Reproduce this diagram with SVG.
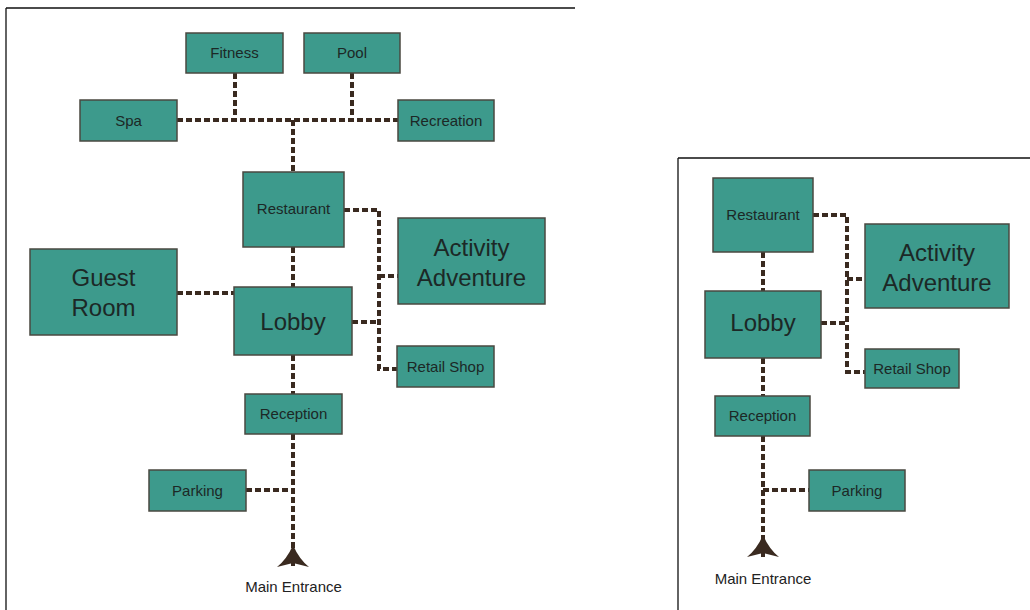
<svg xmlns="http://www.w3.org/2000/svg" width="1030" height="610" viewBox="0 0 1030 610">
  <style>
    .room { fill: #3d9a8c; stroke: #4a4840; stroke-width: 1.5; }
    .lbl { font-family: "Liberation Sans", Arial, sans-serif; fill: #1c2826; text-anchor: middle; }
    .sm { font-size: 15px; }
    .lg { font-size: 24px; }
    .path { fill: none; stroke: #3a2a20; stroke-width: 4; stroke-dasharray: 6 3; }
    .frame { fill: none; stroke: #111; stroke-width: 1.3; }
    .head { fill: #3a2a20; }
    .cap { font-family: "Liberation Sans", Arial, sans-serif; font-size: 15px; fill: #222; text-anchor: middle; }
  </style>
  <rect width="1030" height="610" fill="#ffffff"/>

  <!-- page frames -->
  <path class="frame" d="M6 8 H575 M6 8 V610"/>
  <path class="frame" d="M678 158 H1030 M678 158 V610"/>

  <!-- full plan: circulation paths -->
  <g id="connectors-full">
    <path class="path" d="M177 120 H398"/>
    <path class="path" d="M235 73 V120"/>
    <path class="path" d="M352 73 V120"/>
    <path class="path" d="M293 120 V172"/>
    <path class="path" d="M293 247 V287"/>
    <path class="path" d="M344 210 H379 V369 H397"/>
    <path class="path" d="M379 276 H398"/>
    <path class="path" d="M352 322 H379"/>
    <path class="path" d="M177 293 H234"/>
    <path class="path" d="M293 355 V394"/>
    <path class="path" d="M293 434 V567"/>
    <path class="path" d="M246 490 H293"/>
    <path class="head" d="M293 545 Q299 559 309 567 L293 563 L277 567 Q287 559 293 545 Z"/>
  </g>

  <g id="spa"><rect class="room" x="80" y="100" width="97" height="41"/><text class="lbl sm" x="128.5" y="126">Spa</text></g>
  <g id="fitness"><rect class="room" x="186" y="33" width="97" height="40"/><text class="lbl sm" x="234.5" y="58">Fitness</text></g>
  <g id="pool"><rect class="room" x="304" y="33" width="96" height="40"/><text class="lbl sm" x="352" y="58">Pool</text></g>
  <g id="recreation"><rect class="room" x="398" y="100" width="96" height="41"/><text class="lbl sm" x="446" y="126">Recreation</text></g>
  <g id="restaurant"><rect class="room" x="243" y="172" width="101" height="75"/><text class="lbl sm" x="293.5" y="214">Restaurant</text></g>
  <g id="activity"><rect class="room" x="398" y="218" width="147" height="86"/><text class="lbl lg" x="471.5" y="256">Activity</text><text class="lbl lg" x="471.5" y="286">Adventure</text></g>
  <g id="guest-room"><rect class="room" x="30" y="249" width="147" height="86"/><text class="lbl lg" x="103.5" y="286">Guest</text><text class="lbl lg" x="103.5" y="316">Room</text></g>
  <g id="lobby"><rect class="room" x="234" y="287" width="118" height="68"/><text class="lbl lg" x="293" y="330">Lobby</text></g>
  <g id="retail"><rect class="room" x="397" y="346" width="97" height="41"/><text class="lbl sm" x="445.5" y="372">Retail Shop</text></g>
  <g id="reception"><rect class="room" x="245" y="394" width="97" height="40"/><text class="lbl sm" x="293.5" y="419">Reception</text></g>
  <g id="parking"><rect class="room" x="149" y="470" width="97" height="41"/><text class="lbl sm" x="197.5" y="496">Parking</text></g>
  <text id="entrance" class="cap" x="293.5" y="592">Main Entrance</text>

  <!-- partial plan: circulation paths -->
  <g id="connectors-partial">
    <path class="path" d="M813 215 H847 V372 H865"/>
    <path class="path" d="M847 279 H865"/>
    <path class="path" d="M821 323 H847"/>
    <path class="path" d="M763 252 V291"/>
    <path class="path" d="M763 358 V396"/>
    <path class="path" d="M763 436 V557"/>
    <path class="path" d="M763 490 H809"/>
    <path class="head" d="M763 535 Q769 549 779 557 L763 553 L747 557 Q757 549 763 535 Z"/>
  </g>

  <g id="restaurant-2"><rect class="room" x="713" y="178" width="100" height="74"/><text class="lbl sm" x="763" y="220">Restaurant</text></g>
  <g id="activity-2"><rect class="room" x="865" y="224" width="144" height="84"/><text class="lbl lg" x="937" y="261">Activity</text><text class="lbl lg" x="937" y="291">Adventure</text></g>
  <g id="lobby-2"><rect class="room" x="705" y="291" width="116" height="67"/><text class="lbl lg" x="763" y="331">Lobby</text></g>
  <g id="retail-2"><rect class="room" x="865" y="349" width="94" height="39"/><text class="lbl sm" x="912" y="374">Retail Shop</text></g>
  <g id="reception-2"><rect class="room" x="715" y="396" width="95" height="40"/><text class="lbl sm" x="762.5" y="421">Reception</text></g>
  <g id="parking-2"><rect class="room" x="809" y="470" width="96" height="41"/><text class="lbl sm" x="857" y="496">Parking</text></g>
  <text id="entrance-2" class="cap" x="763" y="584">Main Entrance</text>
</svg>
